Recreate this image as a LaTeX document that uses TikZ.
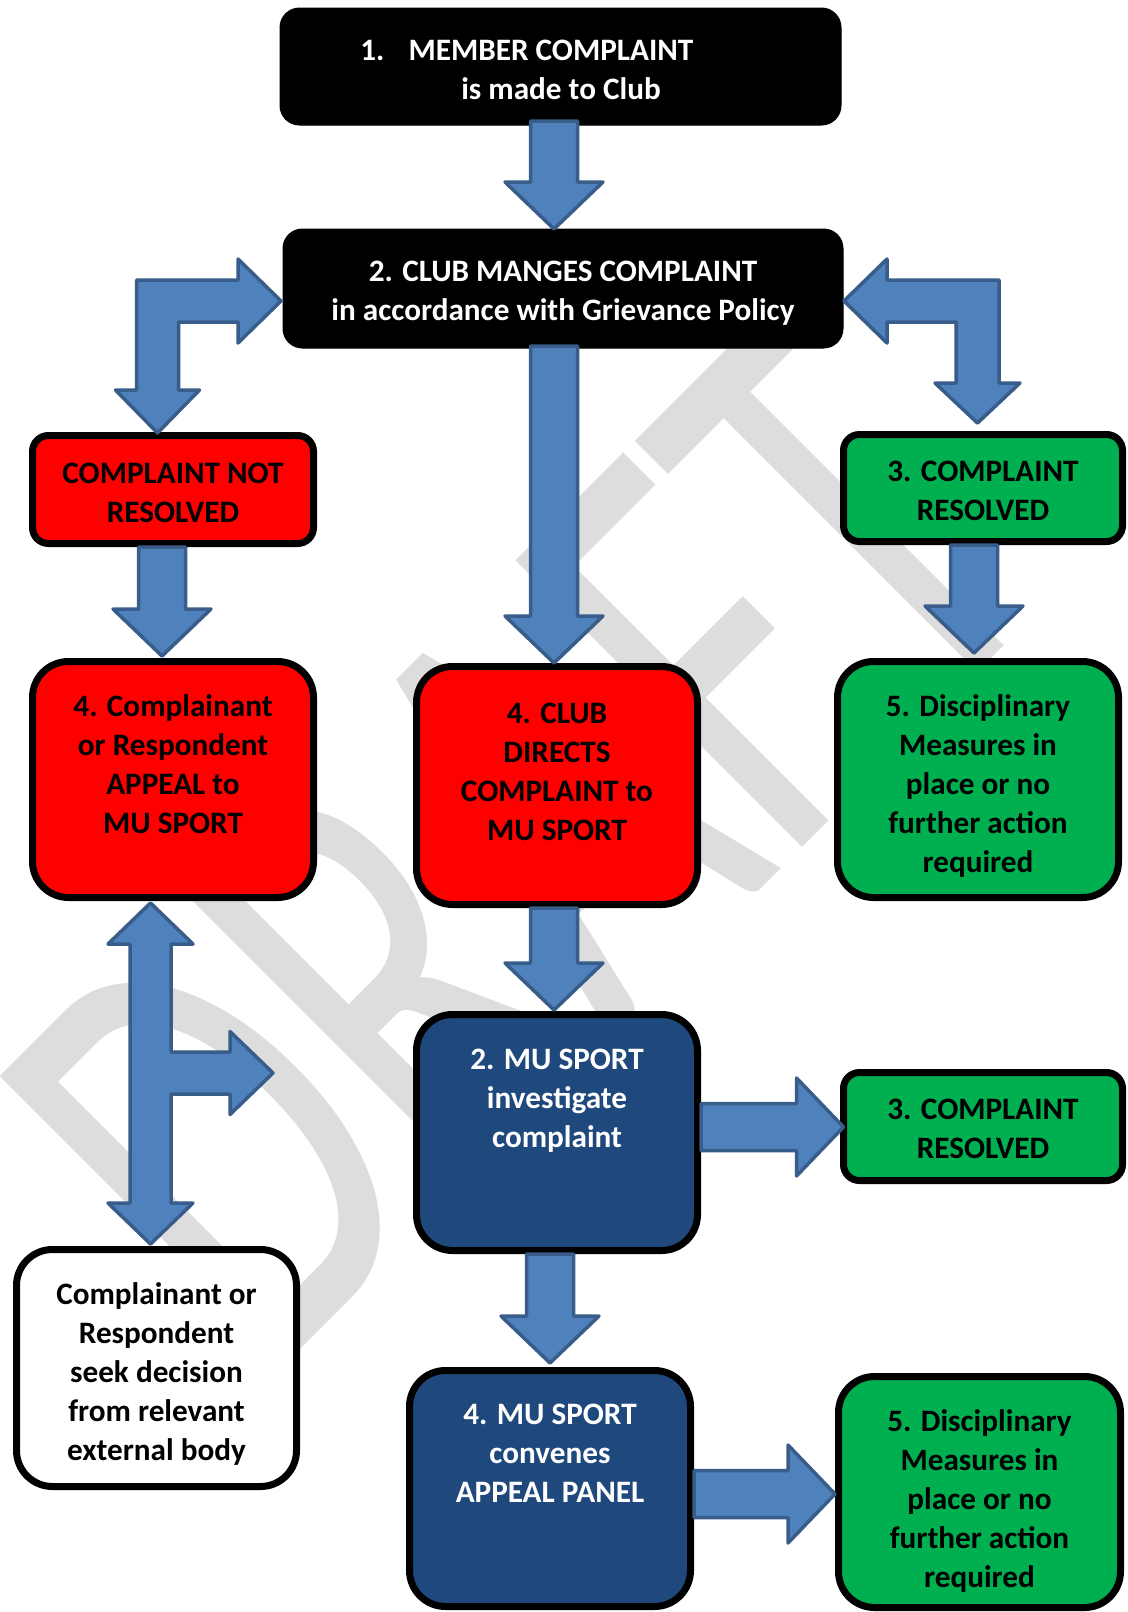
\documentclass[tikz,border=0pt]{standalone}
\usepackage{fontspec}
\setmainfont{Carlito}
\usepackage{graphicx}
\usetikzlibrary{calc}
\definecolor{arrowfill}{HTML}{4F81BD}
\definecolor{arrowline}{HTML}{385D8A}
\definecolor{okgreen}{HTML}{00B050}
\definecolor{mublue}{HTML}{1F497D}
\definecolor{wmgray}{RGB}{221,221,221}
\definecolor{alertred}{HTML}{FF0000}
\newcommand{\fls}{\rule{0pt}{14pt}}
\newcommand{\blockdown}[2]{%
  \filldraw[blockarrow] let \p1=(#1), \p2=(#2) in
   (\x2-11.75pt,\y1) -- (\x2+11.75pt,\y1) -- (\x2+11.75pt,\y2+23.5pt)
   -- (\x2+24.5pt,\y2+23.5pt) -- (\x2,\y2) -- (\x2-24.5pt,\y2+23.5pt)
   -- (\x2-11.75pt,\y2+23.5pt) -- cycle;}
\newcommand{\blockright}[2]{%
  \filldraw[blockarrow] let \p1=(#1), \p2=(#2) in
   (\x1,\y2+11.75pt) -- (\x2-23.5pt,\y2+11.75pt) -- (\x2-23.5pt,\y2+24.5pt)
   -- (\x2,\y2) -- (\x2-23.5pt,\y2-24.5pt) -- (\x2-23.5pt,\y2-11.75pt)
   -- (\x1,\y2-11.75pt) -- cycle;}
\tikzset{
  flowbox/.style={rectangle, draw=black, line width=3.5pt, inner sep=0pt, outer sep=0pt},
  tallbox/.style={flowbox, rounded corners=18pt, minimum width=140.5pt, minimum height=118pt},
  shortbox/.style={flowbox, rounded corners=8pt, minimum width=140.5pt, minimum height=54pt},
  blackbox/.style={rectangle, fill=black, draw=black, line width=0.5pt, rounded corners=9.75pt, inner sep=0pt, outer sep=0pt, minimum width=280.5pt, minimum height=58.5pt},
  blockarrow/.style={fill=arrowfill, draw=arrowline, line width=1.75pt, line join=round},
  lbl/.style={font=\bfseries\fontsize{15.6}{19.5}\selectfont, align=center, inner sep=0pt, anchor=north},
  lblw/.style={lbl, text=white},
  lblb/.style={lbl, text=black},
  wm/.style={font=\fontsize{316}{316}\selectfont, text=wmgray, inner sep=0pt},
}
\begin{document}
\begin{tikzpicture}[x=0.5pt, y=-0.5pt]
\useasboundingbox (0,0) rectangle (1128,1612);
\clip (0,0) rectangle (1128,1612);
% watermark
\node[wm, rotate=45, anchor=base west] (wmk) at (266,1384) {\scalebox{0.665}[1]{DRAFT}};
% boxes
\node[blackbox] (b1) at (560.5,66.5) {};
\node[blackbox, minimum width=280pt, minimum height=59.5pt] (b2) at (563,288.5) {};
\node[shortbox, fill=alertred] (bNR) at (173,489.5) {};
\node[shortbox, fill=okgreen, minimum width=139.5pt, minimum height=53.5pt] (bR1) at (983,488) {};
\node[tallbox, fill=alertred] (bAp) at (173,779.5) {};
\node[tallbox, fill=alertred, minimum height=119pt] (bCD) at (557,785.5) {};
\node[tallbox, fill=okgreen] (bD1) at (978,779.5) {};
\node[tallbox, fill=mublue] (bMI) at (557,1132.5) {};
\node[shortbox, fill=okgreen, minimum width=139.5pt] (bR2) at (983,1126.5) {};
\node[tallbox, fill=white, minimum width=140pt, minimum height=118.5pt] (bW) at (156.5,1368) {};
\node[tallbox, fill=mublue] (bCV) at (550,1488.5) {};
\node[tallbox, fill=okgreen, minimum width=141pt, minimum height=115.5pt] (bD2) at (979.5,1492) {};
% straight block arrows
\blockdown{$(b1.south)+(-6.5,-4)$}{$(b2.north)+(-9,0)$}
\blockdown{$(b2.south)+(-9,-2)$}{$(bCD.north)+(-3,-3.5)$}
\blockdown{$(bCD.south)+(-3,3.5)$}{$(bMI.north)+(-3,-4.5)$}
\blockdown{$(bMI.south)+(-7,3.5)$}{$(bCV.north)+(0,-7.5)$}
\blockdown{$(bNR.south)+(-11,3.5)$}{$(bAp.north)+(-11,-5.5)$}
\blockdown{$(bR1.south)+(-9,3.5)$}{$(bD1.north)+(-4,-8.5)$}
\blockright{$(bMI.east)+(3.5,0)$}{$(bR2.west)+(0,0.5)$}
\blockright{$(bCV.east)+(3.5,0)$}{$(bD2.west)+(-3.5,2)$}
% left bent arrow (two heads)
\filldraw[blockarrow] let \p1=($(b2.west)+(-2,12.5)$), \p2=($(bNR.north)+(-15.5,-2.5)$) in
 (\x2-10.5pt,\y1+10.5pt) -- (\x1-21.5pt,\y1+10.5pt) -- (\x1-21.5pt,\y1+21pt) -- (\x1,\y1)
 -- (\x1-21.5pt,\y1-21pt) -- (\x1-21.5pt,\y1-10.5pt) -- (\x2+10.5pt,\y1-10.5pt)
 -- (\x2+10.5pt,\y2+21.5pt) -- (\x2+21pt,\y2+21.5pt) -- (\x2,\y2) -- (\x2-21pt,\y2+21.5pt)
 -- (\x2-10.5pt,\y2+21.5pt) -- cycle;
% right bent arrow (two heads)
\filldraw[blockarrow] let \p1=($(b2.east)+(1,12.5)$), \p2=($(bR1.north)+(-5.5,-11.5)$) in
 (\x1,\y1) -- (\x1+21.5pt,\y1+21pt) -- (\x1+21.5pt,\y1+10.5pt) -- (\x2+10.75pt,\y1+10.5pt)
 -- (\x2+10.75pt,\y2+20pt) -- (\x2+21.25pt,\y2+20pt) -- (\x2,\y2) -- (\x2-21.25pt,\y2+20pt)
 -- (\x2-10.75pt,\y2+20pt) -- (\x2-10.75pt,\y1-10.5pt) -- (\x1+21.5pt,\y1-10.5pt)
 -- (\x1+21.5pt,\y1-21pt) -- cycle;
% three-headed arrow
\coordinate (tb) at (273,1073);
\filldraw[blockarrow] let \p1=($(bAp.south)+(-22.5,5.5)$), \p2=($(bW.north)+(-6,-5.5)$), \p3=(tb) in
 (\x1,\y1) -- (\x1+21.25pt,\y1-20.5pt) -- (\x1+10.25pt,\y1-20.5pt) -- (\x1+10.25pt,\y3+10.5pt)
 -- (\x3-21.5pt,\y3+10.5pt) -- (\x3-21.5pt,\y3+20.75pt) -- (\x3,\y3) -- (\x3-21.5pt,\y3-20.75pt)
 -- (\x3-21.5pt,\y3-10.5pt) -- (\x1+10.25pt,\y3-10.5pt) -- (\x1+10.25pt,\y2+20.5pt)
 -- (\x1+21.25pt,\y2+20.5pt) -- (\x1,\y2) -- (\x1-21.25pt,\y2+20.5pt) -- (\x1-10.25pt,\y2+20.5pt)
 -- (\x1-10.25pt,\y1-20.5pt) -- (\x1-21.25pt,\y1-20.5pt) -- cycle;
% texts
\node[lblw, anchor=base west] (t1a) at (360,60) {1.\hspace{12pt}MEMBER COMPLAINT};
\node[lblw, anchor=base] (t1b) at (561,99) {is made to Club};
\node[lblw] (t2) at ($(b2.north)+(0,24)$) {\fls 2. CLUB MANGES COMPLAINT\\in accordance with Grievance Policy};
\node[lblb] (tNR) at ($(bNR.north)+(0,19.5)$) {\fls COMPLAINT NOT\\RESOLVED};
\node[lblb] (tR1) at ($(bR1.north)+(0,18.5)$) {\fls 3. COMPLAINT\\RESOLVED};
\node[lblb] (tAp) at ($(bAp.north)+(0,26.5)$) {\fls 4. Complainant\\or Respondent\\APPEAL to\\MU SPORT};
\node[lblb] (tCD) at ($(bCD.north)+(0,28.5)$) {\fls 4. CLUB\\DIRECTS\\COMPLAINT to\\MU SPORT};
\node[lblb] (tD1) at ($(bD1.north)+(0,26.5)$) {\fls 5. Disciplinary\\Measures in\\place or no\\further action\\required};
\node[lblw] (tMI) at ($(bMI.north)+(0,26.5)$) {\fls 2. MU SPORT\\investigate\\complaint};
\node[lblb] (tR2) at ($(bR2.north)+(0,18.5)$) {\fls 3. COMPLAINT\\RESOLVED};
\node[lblb] (tW) at ($(bW.north)+(0,26.5)$) {\fls Complainant or\\Respondent\\seek decision\\from relevant\\external body};
\node[lblw] (tCV) at ($(bCV.north)+(0,25.5)$) {\fls 4. MU SPORT\\convenes\\APPEAL PANEL};
\node[lblb] (tD2) at ($(bD2.north)+(0,26.5)$) {\fls 5. Disciplinary\\Measures in\\place or no\\further action\\required};
\end{tikzpicture}
\end{document}
